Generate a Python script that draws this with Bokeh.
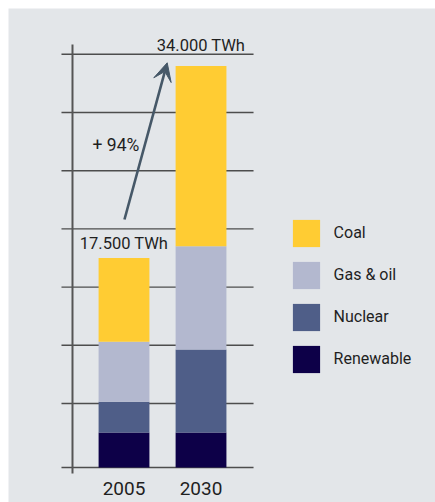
import numpy as np
from bokeh.plotting import figure
from bokeh.models import Range1d, ColumnDataSource, Legend, LegendItem, Label, Arrow, VeeHead
from bokeh.embed import file_html
from bokeh.resources import INLINE

# Electricity generation by source (TWh)
years = ["2005", "2030"]
renewable = [2500, 2500]
nuclear = [2650, 7150]
gas_oil = [5150, 8850]
coal = [7200, 15500]
total_labels = ["17.500 TWh", "34.000 TWh"]
growth_label = "+ 94%"
grid_values = [5000, 10000, 15000, 20000, 25000, 30000, 35000]

series_names = ["Renewable", "Nuclear", "Gas & oil", "Coal"]
series_values = [renewable, nuclear, gas_oil, coal]
series_colors = ["#0D0048", "#4F5E88", "#B3B8CF", "#FFCC33"]

FONT = "Roboto"
TEXT_COLOR = "#1f1f1f"
LINE_COLOR = "#4d4d4d"
ARROW_COLOR = "#465868"

# bars rest on an axis floor slightly below zero
floor = -500
xs = np.array([1.0, 2.0])
bar_width = 0.66

p = figure(width=435, height=502, output_backend="svg", toolbar_location=None,
           x_range=Range1d(-0.5, 5.045), y_range=Range1d(-3505, 38935),
           x_axis_location=None, y_axis_location=None,
           min_border_left=8, min_border_top=8, min_border_right=0, min_border_bottom=0,
           border_fill_color="white", background_fill_color="#E3E6E9",
           outline_line_color=None)
p.grid.visible = False

# horizontal rules and the baseline
rule_y = [floor] + grid_values
p.segment(x0=[0.188] * len(rule_y), x1=[2.682] * len(rule_y), y0=rule_y, y1=rule_y,
          line_color=LINE_COLOR, line_width=1.4)
# vertical axis line
p.segment(x0=[0.331], x1=[0.331], y0=[-1014], y1=[35842], line_color="#555555", line_width=2)

# stacked bars
tops = np.cumsum(np.array(series_values, dtype=float), axis=0)
bottoms = np.vstack([np.zeros(len(years)), tops[:-1]])
bottoms[0] = floor
renderers = {}
for name, color, b, t in zip(series_names, series_colors, bottoms, tops):
    src = ColumnDataSource(dict(x=xs, bottom=b, top=t))
    renderers[name] = p.vbar(x="x", width=bar_width, bottom="bottom", top="top",
                             fill_color=color, line_color=None, source=src)

totals = tops[-1]
# total labels above each bar
for x, tot, txt, off in zip(xs, totals, total_labels, [15, 20]):
    p.add_layout(Label(x=x, y=tot, y_offset=off, text=txt, text_align="center",
                       text_baseline="alphabetic", text_font=FONT, text_font_size="16.5px",
                       text_color=TEXT_COLOR))

# growth arrow from 2005 to 2030
p.add_layout(Arrow(x_start=1.006, y_start=20808, x_end=1.561, y_end=34270,
                   line_color=ARROW_COLOR, line_width=2.6,
                   end=VeeHead(size=18, fill_color=ARROW_COLOR, line_color=ARROW_COLOR)))
p.add_layout(Label(x=0.895, y=26692, y_offset=6, text=growth_label, text_align="center",
                   text_baseline="alphabetic", text_font=FONT, text_font_size="17.5px",
                   text_color=TEXT_COLOR))

# year labels under the bars
for x, yr in zip(xs, years):
    p.add_layout(Label(x=x, y=floor, y_offset=-21, text=yr, text_align="center",
                       text_baseline="alphabetic", text_font=FONT, text_font_size="19px",
                       text_color=TEXT_COLOR))

legend = Legend(items=[LegendItem(label=n, renderers=[renderers[n]]) for n in reversed(series_names)],
                location=(280.6, 126.4), glyph_width=34, glyph_height=34, label_standoff=11,
                spacing=8, padding=0, margin=0, border_line_color=None,
                background_fill_alpha=0, label_text_font=FONT, label_text_font_size="16px",
                label_text_color=TEXT_COLOR)
p.add_layout(legend)

open("out.html", "w").write(file_html(p, INLINE))
